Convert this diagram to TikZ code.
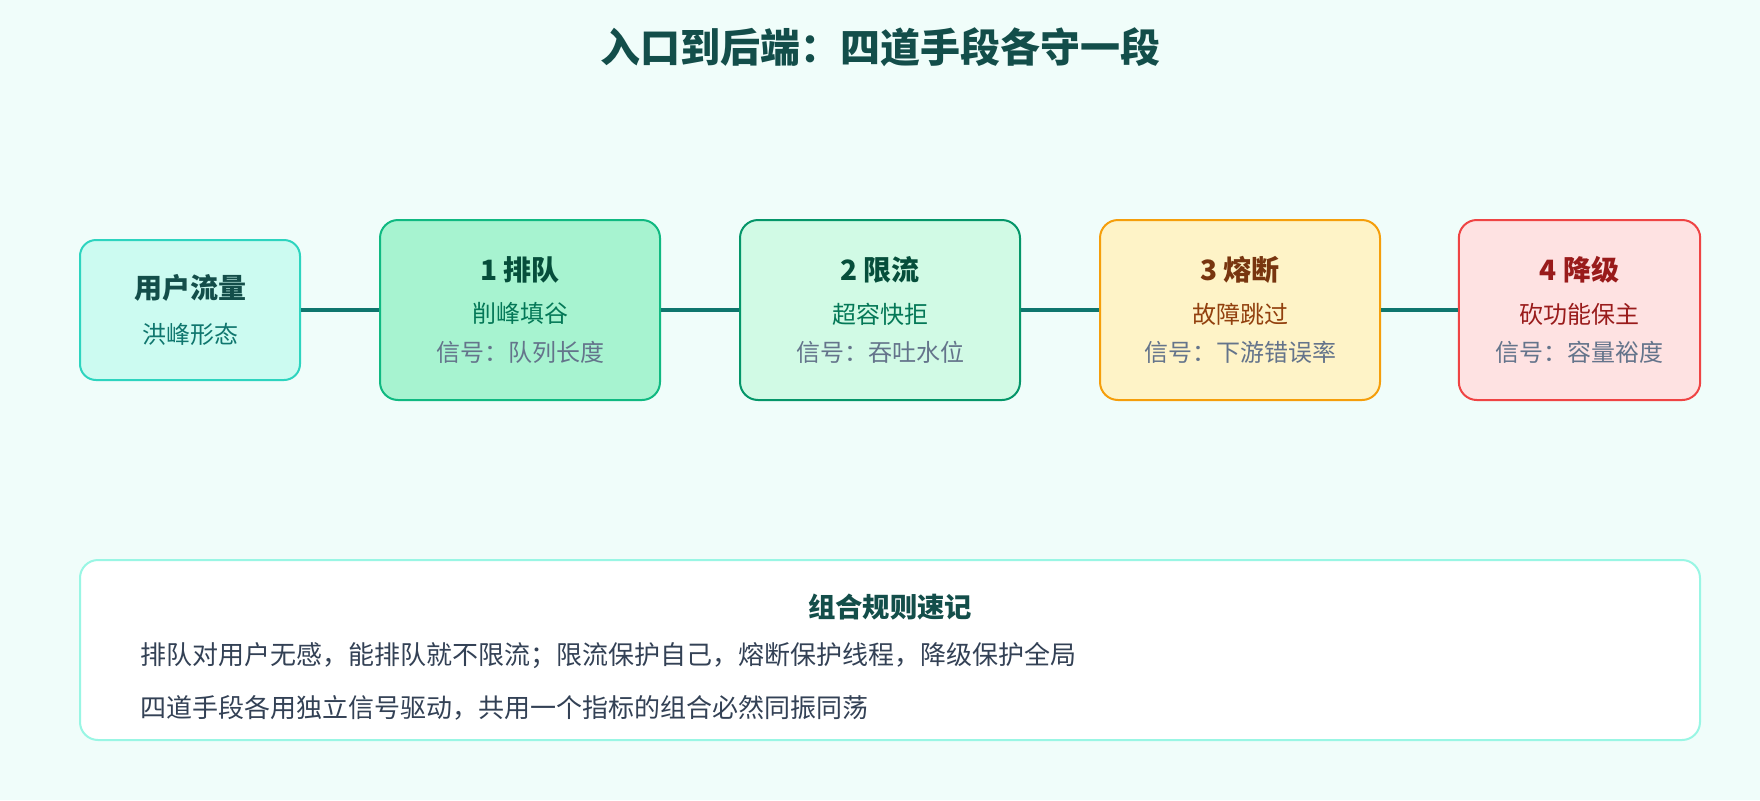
\documentclass[tikz,border=0pt]{standalone}
\usepackage{fontspec}
\setmainfont{Noto Sans CJK SC}
\definecolor{bgmint}{HTML}{F0FDFA}
\definecolor{inkteal}{HTML}{134E4A}
\definecolor{midteal}{HTML}{0F766E}
\definecolor{wirecol}{HTML}{0F766E}
\definecolor{userfill}{HTML}{CCFBF1}
\definecolor{userline}{HTML}{2DD4BF}
\definecolor{queuefill}{HTML}{A7F3D0}
\definecolor{queueline}{HTML}{10B981}
\definecolor{limitfill}{HTML}{D1FAE5}
\definecolor{limitline}{HTML}{059669}
\definecolor{greenink}{HTML}{064E3B}
\definecolor{greensub}{HTML}{047857}
\definecolor{breakfill}{HTML}{FEF3C7}
\definecolor{breakline}{HTML}{F59E0B}
\definecolor{amberink}{HTML}{78350F}
\definecolor{ambersub}{HTML}{92400E}
\definecolor{degradefill}{HTML}{FEE2E2}
\definecolor{degradeline}{HTML}{EF4444}
\definecolor{redink}{HTML}{991B1B}
\definecolor{signalgray}{HTML}{64748B}
\definecolor{noteline}{HTML}{99F6E4}
\definecolor{noteink}{HTML}{334155}
\newcommand{\headfont}{\fontsize{21}{24}\selectfont\bfseries}
\newcommand{\sigline}[1]{{\color{signalgray}#1}}
\tikzset{
  stage/.style={draw, line width=1.5pt, rounded corners=13.5pt, align=center,
    inner sep=0pt, minimum width=210pt, minimum height=135pt,
    font=\fontsize{18}{29}\selectfont},
  wire/.style={draw=wirecol, line width=2.6pt},
  ruletext/.style={anchor=west, inner sep=0pt, text=noteink, font=\fontsize{19.5}{24}\selectfont},
}
\begin{document}
\begin{tikzpicture}[x=0.75pt,y=-0.75pt]
  \useasboundingbox[fill=bgmint] (0,0) rectangle (1760,800);
  \node[text=inkteal, font=\fontsize{30}{34}\selectfont\bfseries] (title) at (880,47) {入口到后端：四道手段各守一段};

  % stages
  \node[stage, fill=userfill, draw=userline, minimum width=165pt, minimum height=105pt, rounded corners=12pt]
    (user) at (190,310) {{\headfont\color{inkteal}用户流量}\\[5pt]{\color{midteal}洪峰形态}};
  \node[stage, fill=queuefill, draw=queueline] (queue) at (520,310)
    {{\headfont\color{greenink}1 排队}\\[3pt]{\color{greensub}削峰填谷}\\\sigline{信号：队列长度}};
  \node[stage, fill=limitfill, draw=limitline] (limit) at (880,310)
    {{\headfont\color{greenink}2 限流}\\[3pt]{\color{greensub}超容快拒}\\\sigline{信号：吞吐水位}};
  \node[stage, fill=breakfill, draw=breakline] (fuse) at (1240,310)
    {{\headfont\color{amberink}3 熔断}\\[3pt]{\color{ambersub}故障跳过}\\\sigline{信号：下游错误率}};
  \node[stage, fill=degradefill, draw=degradeline, minimum width=181pt] (degrade) at (1579.5,310)
    {{\headfont\color{redink}4 降级}\\[3pt]{\color{redink}砍功能保主}\\\sigline{信号：容量裕度}};

  \draw[wire] (user) -- (queue);
  \draw[wire] (queue) -- (limit);
  \draw[wire] (limit) -- (fuse);
  \draw[wire] (fuse) -- (degrade);

  % rules card
  \node[draw=noteline, fill=white, line width=1.5pt, rounded corners=13.5pt, inner sep=0pt,
    minimum width=1215pt, minimum height=135pt] (rules) at (890,650) {};
  \node[text=inkteal, font=\fontsize{20.5}{24}\selectfont\bfseries] (rulehead) at (890,607) {组合规则速记};
  \node[ruletext] (ruleA) at (140,656) {排队对用户无感，能排队就不限流；限流保护自己，熔断保护线程，降级保护全局};
  \node[ruletext] (ruleB) at (140,708) {四道手段各用独立信号驱动，共用一个指标的组合必然同振同荡};
\end{tikzpicture}
\end{document}
